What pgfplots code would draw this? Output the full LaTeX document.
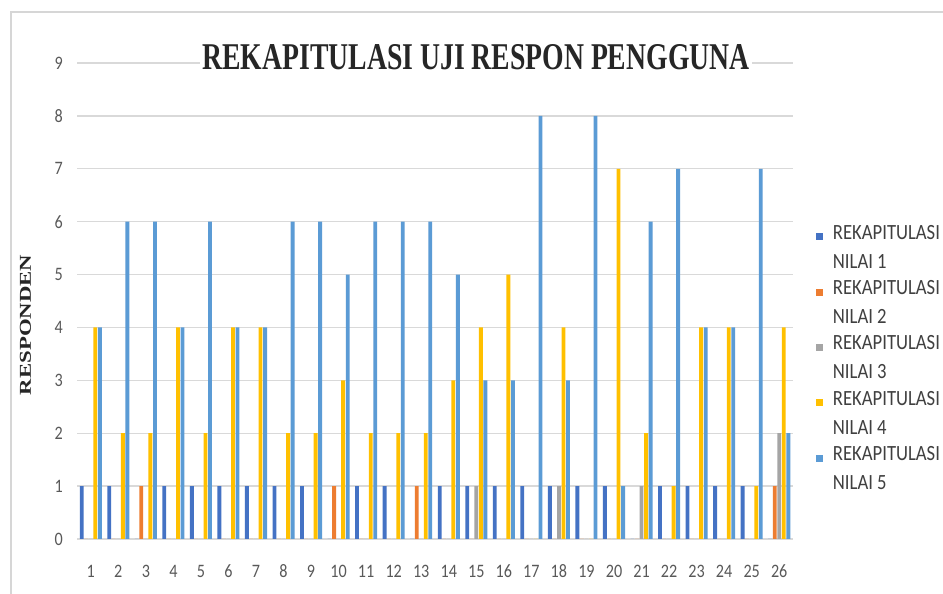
\documentclass[border=0pt]{standalone}
\usepackage{fontspec}
\usepackage{pgfplots}
\usepackage{pgfplotstable}
\pgfplotsset{compat=1.18}
\newfontfamily\titlefont[FakeStretch=0.733]{Liberation Serif}
\newfontfamily\ylabfont{Liberation Serif}
\newfontfamily\tickfont[FakeStretch=0.85]{Carlito}
\newfontfamily\legfont[FakeStretch=0.86]{Carlito}
\definecolor{c1}{HTML}{4472C4}
\definecolor{c2}{HTML}{ED7D31}
\definecolor{c3}{HTML}{A5A5A5}
\definecolor{c4}{HTML}{FFC000}
\definecolor{c5}{HTML}{5B9BD5}
\definecolor{gridgray}{HTML}{D9D9D9}
\definecolor{bordergray}{HTML}{D6D6D6}
\definecolor{tickgray}{HTML}{595959}
\definecolor{titlecol}{HTML}{262626}
\definecolor{legcol}{HTML}{404040}

\pgfplotstableread{
x  s1 s2 s3 s4 s5
1  1  0  0  4  4
2  1  0  0  2  6
3  0  1  0  2  6
4  1  0  0  4  4
5  1  0  0  2  6
6  1  0  0  4  4
7  1  0  0  4  4
8  1  0  0  2  6
9  1  0  0  2  6
10 0  1  0  3  5
11 1  0  0  2  6
12 1  0  0  2  6
13 0  1  0  2  6
14 1  0  0  3  5
15 1  0  1  4  3
16 1  0  0  5  3
17 1  0  0  0  8
18 1  0  1  4  3
19 1  0  0  0  8
20 1  0  0  7  1
21 0  0  1  2  6
22 1  0  0  1  7
23 1  0  0  4  4
24 1  0  0  4  4
25 1  0  0  1  7
26 0  1  2  4  2
}\datatable

\begin{document}
\begin{tikzpicture}[x=1pt,y=1pt]
\useasboundingbox (0,0) rectangle (943,594);
\fill[white] (0,0) rectangle (943,594);
\draw[bordergray, line width=2pt] (11,0) -- (11,582) -- (943,582);
\begin{axis}[
  at={(77pt,55pt)}, anchor=south west,
  scale only axis, width=716pt, height=476pt,
  xmin=0.5, xmax=26.5, ymin=0, ymax=9,
  ybar, bar width=0.14,
  xtick={1,...,26}, ytick={0,...,9},
  ymajorgrids, major grid style={draw=gridgray, line width=1.3pt},
  axis line style={draw=none}, tick style={draw=none},
  /pgf/number format/assume math mode=true,
  ticklabel style={font=\tickfont\fontsize{19}{19}\selectfont, text=tickgray},
  xticklabel style={anchor=base, yshift=-34pt},
  yticklabel style={anchor=east, inner sep=0pt, xshift=-14pt},
  legend style={at={(axis description cs:1.032,0.664)}, anchor=north west,
    draw=none, fill=none, inner sep=0pt, outer sep=0pt,
    font=\legfont\fontsize{21.7}{29}\selectfont, text=legcol,
    row sep=6.8pt, column sep=8pt,
    cells={anchor=west, align=left, inner sep=0pt}},
  legend image code/.code={\fill[#1] (0pt,7pt) rectangle (7pt,14pt);},
  legend cell align=left,
]
\addplot[fill=c1, draw=none, bar shift=-0.33] table[x=x,y=s1]{\datatable};
\addlegendentry{REKAPITULASI\\NILAI 1}
\addplot[fill=c2, draw=none, bar shift=-0.165] table[x=x,y=s2]{\datatable};
\addlegendentry{REKAPITULASI\\NILAI 2}
\addplot[fill=c3, draw=none, bar shift=0] table[x=x,y=s3]{\datatable};
\addlegendentry{REKAPITULASI\\NILAI 3}
\addplot[fill=c4, draw=none, bar shift=0.165] table[x=x,y=s4]{\datatable};
\addlegendentry{REKAPITULASI\\NILAI 4}
\addplot[fill=c5, draw=none, bar shift=0.33] table[x=x,y=s5]{\datatable};
\addlegendentry{REKAPITULASI\\NILAI 5}
\end{axis}
\node[fill=white, inner sep=2pt, text=titlecol,
  font=\titlefont\bfseries\fontsize{37.8}{40}\selectfont] at (476,536.5)
  {REKAPITULASI UJI RESPON PENGGUNA};
\node[rotate=90, inner sep=0pt, text=titlecol,
  font=\ylabfont\bfseries\fontsize{16.6}{17}\selectfont] at (25.5,269)
  {\scalebox{1.37}[1]{RESPONDEN}};
\end{tikzpicture}
\end{document}
